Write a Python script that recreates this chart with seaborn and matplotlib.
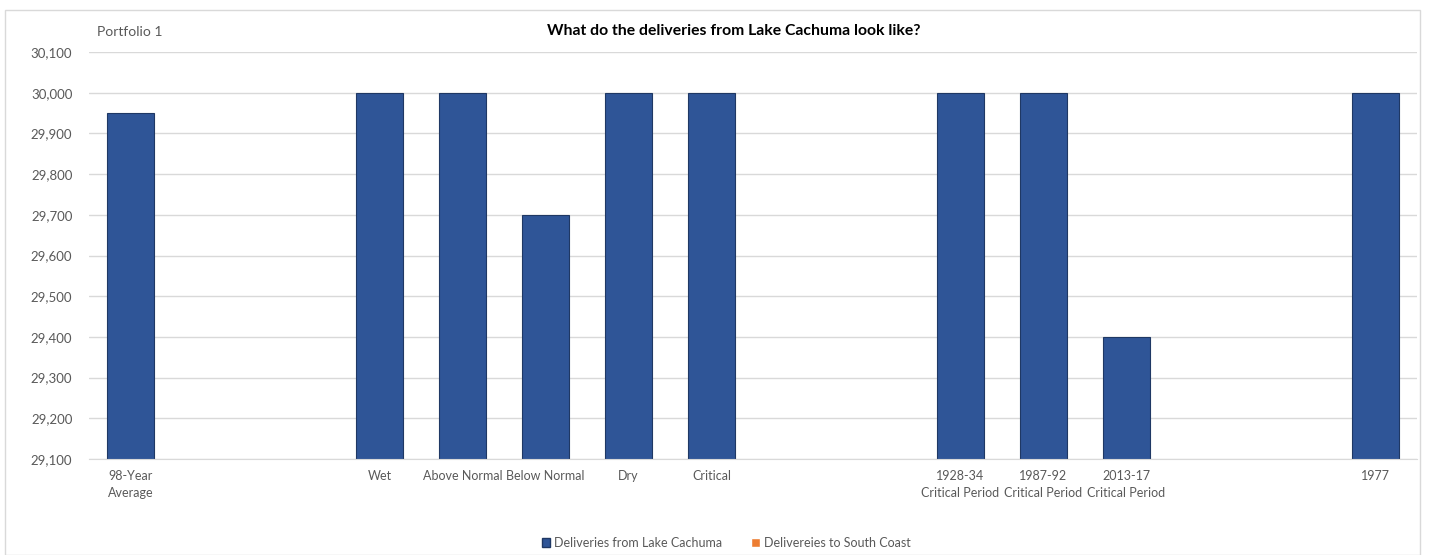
import pandas as pd
import matplotlib.pyplot as plt
import seaborn as sns
from matplotlib.patches import Patch, Rectangle
from matplotlib.ticker import FuncFormatter

# data (gap = empty slot on the axis)
slots = ["98-Year\nAverage", "gap1", "gap2", "Wet", "Above Normal", "Below Normal",
         "Dry", "Critical", "gap3", "gap4", "1928-34\nCritical Period",
         "1987-92\nCritical Period", "2013-17\nCritical Period", "gap5", "gap6", "1977"]
lake_cachuma = [29950, None, None, 30000, 30000, 29700, 30000, 30000, None, None,
                30000, 30000, 29400, None, None, 30000]
series_names = ["Deliveries from Lake Cachuma", "Delivereies to South Coast"]

df = pd.DataFrame({"slot": slots, "value": lake_cachuma})

sns.set_style("white")
plt.rcParams['font.family'] = ['Lato', 'DejaVu Sans']

fig = plt.figure(figsize=(14.35, 5.55), dpi=100)
ax = fig.add_axes([89 / 1435, 1 - 459 / 555, (1417 - 89) / 1435, (459 - 52) / 555])

sns.barplot(data=df, x="slot", y="value", order=slots, color="#2F5597",
            width=0.57, edgecolor="#1F3864", linewidth=0.8, saturation=1, ax=ax)

ax.set_ylim(29100, 30100)
ax.set_yticks(range(29100, 30101, 100))
ax.yaxis.set_major_formatter(FuncFormatter(lambda v, p: f"{int(v):,}"))
ax.set_xticklabels(["" if s.startswith("gap") else s for s in slots], linespacing=1.45)
ax.set_xlim(-0.5, len(slots) - 0.5)
ax.set_xlabel("")
ax.set_ylabel("")
ax.grid(axis="y", color="#D9D9D9", linewidth=1)
ax.set_axisbelow(True)
for side in ["top", "right", "left"]:
    ax.spines[side].set_visible(False)
ax.spines["bottom"].set_color("#D9D9D9")
ax.tick_params(axis="x", length=0, colors="#595959", labelsize=9, pad=8)
ax.tick_params(axis="y", length=0, colors="#595959", labelsize=9.5, pad=12)

fig.text(734 / 1435, 1 - 31 / 555, "What do the deliveries from Lake Cachuma look like?",
         ha="center", va="center", fontsize=11.3, fontweight="bold", color="black")
fig.text(97 / 1435, 1 - 32 / 555, "Portfolio 1", ha="left", va="center",
         fontsize=10, color="#595959")

handles = [Patch(facecolor="#2F5597", edgecolor="#1F3864", label=series_names[0]),
           Patch(facecolor="#ED7D31", label=series_names[1])]
fig.legend(handles=handles, loc="center", bbox_to_anchor=(726 / 1435, 1 - 543 / 555),
           ncol=2, frameon=False, fontsize=9, handlelength=0.7, handleheight=0.7,
           handletextpad=0.3, columnspacing=2.3, labelcolor="#595959")

# chart frame
fig.patches.append(Rectangle((5 / 1435, 0), 1415 / 1435, 1 - 10 / 555, transform=fig.transFigure,
                             fill=False, edgecolor="#D9D9D9", linewidth=1))

fig.savefig("out.png", dpi=100)
